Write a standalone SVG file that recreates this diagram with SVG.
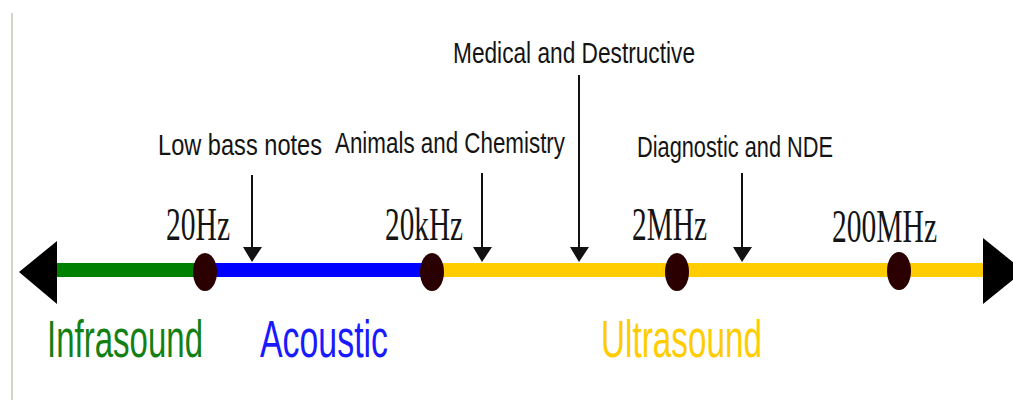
<svg xmlns="http://www.w3.org/2000/svg" width="1013" height="400" viewBox="0 0 1013 400">
<defs>
<style>
.lbl{font-family:"Liberation Sans",Arial,sans-serif;font-size:30px;fill:#141414}
.freq{font-family:"Liberation Serif","Times New Roman",serif;font-size:46px;fill:#141414}
.band{font-family:"Liberation Sans",Arial,sans-serif;font-size:51px}
.dot{fill:#2b0000}
.ptr{stroke:#111;stroke-width:2;fill:none}
.head{fill:#111}
</style>
</defs>
<rect x="0" y="0" width="1013" height="400" fill="#ffffff"/>
<line x1="12" y1="13" x2="12" y2="400" stroke="#d6d2ca" stroke-width="2"/>
<g id="axis">
<rect x="55" y="263" width="150" height="14" fill="#008000"/>
<rect x="205" y="263" width="227" height="14" fill="#0000ff"/>
<rect x="432" y="263" width="555" height="14" fill="#ffcc00"/>
<polygon points="19,272 57,241 57,304" fill="#000"/>
<polygon points="983,238 983,304 1024,271" fill="#000"/>
</g>
<g id="node-20Hz"><ellipse class="dot" cx="205" cy="272" rx="12" ry="19"/><text class="freq" x="166" y="240" textLength="64" lengthAdjust="spacingAndGlyphs">20Hz</text></g>
<g id="node-20kHz"><ellipse class="dot" cx="432" cy="272" rx="12" ry="19"/><text class="freq" x="385" y="240" textLength="78" lengthAdjust="spacingAndGlyphs">20kHz</text></g>
<g id="node-2MHz"><ellipse class="dot" cx="677" cy="272" rx="12" ry="19"/><text class="freq" x="632" y="240" textLength="75" lengthAdjust="spacingAndGlyphs">2MHz</text></g>
<g id="node-200MHz"><ellipse class="dot" cx="899" cy="271" rx="12" ry="19"/><text class="freq" x="832" y="242" textLength="105" lengthAdjust="spacingAndGlyphs">200MHz</text></g>
<g id="connectors">
<line class="ptr" x1="252" y1="175" x2="252" y2="250"/><polygon class="head" points="243,247 262,247 252,262"/>
<line class="ptr" x1="482" y1="173" x2="482" y2="250"/><polygon class="head" points="473,247 492,247 482,262"/>
<line class="ptr" x1="579" y1="75" x2="579" y2="250" stroke="#333"/><polygon class="head" points="570,247 589,247 579,262"/>
<line class="ptr" x1="742" y1="173" x2="742" y2="250"/><polygon class="head" points="733,247 752,247 742,262"/>
</g>
<g id="label-low-bass"><text class="lbl" x="158" y="155" textLength="164" lengthAdjust="spacingAndGlyphs">Low bass notes</text></g>
<g id="label-animals"><text class="lbl" x="335" y="153" textLength="230" lengthAdjust="spacingAndGlyphs">Animals and Chemistry</text></g>
<g id="label-medical"><text class="lbl" x="453" y="63" textLength="242" lengthAdjust="spacingAndGlyphs">Medical and Destructive</text></g>
<g id="label-diagnostic"><text class="lbl" x="637" y="157" textLength="196" lengthAdjust="spacingAndGlyphs">Diagnostic and NDE</text></g>
<g id="band-infrasound"><text class="band" x="47" y="357" fill="#138013" textLength="156" lengthAdjust="spacingAndGlyphs">Infrasound</text></g>
<g id="band-acoustic"><text class="band" x="260" y="357" fill="#1a1aff" textLength="128" lengthAdjust="spacingAndGlyphs">Acoustic</text></g>
<g id="band-ultrasound"><text class="band" x="601" y="357" fill="#ffcc00" textLength="161" lengthAdjust="spacingAndGlyphs">Ultrasound</text></g>
</svg>
